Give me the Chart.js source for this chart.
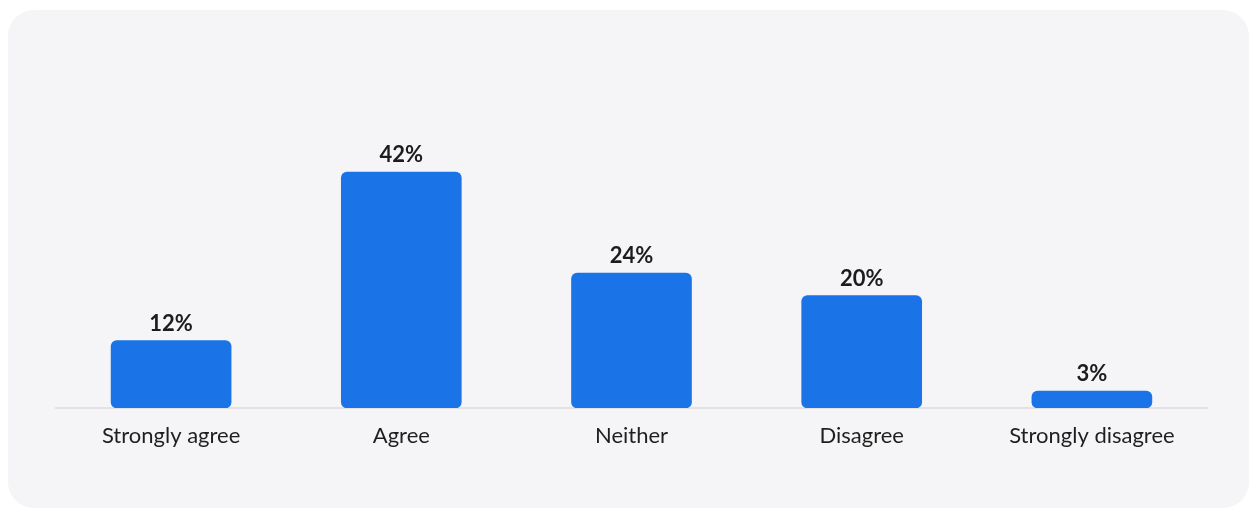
<!DOCTYPE html>
<html>
<head>
<meta charset="utf-8">
<script src="https://cdn.jsdelivr.net/npm/chart.js@4.4.1/dist/chart.umd.min.js"></script>
<style>
  html, body { margin: 0; padding: 0; background: #ffffff; }
  body { width: 1251px; height: 509px; position: relative; overflow: hidden; }
  #panel {
    position: absolute; left: 8px; top: 10px; width: 1241px; height: 498px;
    background: #f5f5f7; border-radius: 26px;
  }
  #wrap { position: absolute; left: 0; top: 0; width: 1251px; height: 509px; }
</style>
</head>
<body>
<div id="panel"></div>
<div id="wrap"><canvas id="chart" width="1251" height="509"></canvas></div>
<script>
// Survey responses, share of respondents (%)
const categories = ['Strongly agree', 'Agree', 'Neither', 'Disagree', 'Strongly disagree'];
const shares = [12, 42, 24, 20, 3];
const valueLabels = ['12%', '42%', '24%', '20%', '3%'];

const FONT = 'Lato, "DejaVu Sans", sans-serif';

// Writes the percentage above each bar
const valueLabelPlugin = {
  id: 'valueLabels',
  afterDatasetsDraw(chart) {
    const ctx = chart.ctx;
    const meta = chart.getDatasetMeta(0);
    ctx.save();
    ctx.font = 'bold 22px ' + FONT;
    ctx.fillStyle = '#1c1c1c';
    ctx.textAlign = 'center';
    ctx.textBaseline = 'alphabetic';
    meta.data.forEach((bar, i) => {
      ctx.fillText(valueLabels[i], bar.x, bar.y - 10);
    });
    ctx.restore();
  }
};

new Chart(document.getElementById('chart'), {
  type: 'bar',
  data: {
    labels: categories,
    datasets: [{
      data: shares,
      backgroundColor: '#1b73e8',
      borderRadius: 6,
      borderSkipped: false,
      barThickness: 120
    }]
  },
  options: {
    responsive: false,
    animation: false,
    devicePixelRatio: 1,
    layout: { padding: { left: 56, right: 44, top: 127, bottom: 0 } },
    plugins: { legend: { display: false }, tooltip: { enabled: false } },
    scales: {
      x: {
        grid: { display: false, drawTicks: false },
        border: { display: true, color: '#e3e3e6', width: 2 },
        ticks: {
          color: '#1f1f1f',
          font: { family: FONT, size: 22 },
          padding: 15
        },
        afterFit(scale) { scale.height = 101; }
      },
      y: {
        display: false,
        min: 0,
        max: 50
      }
    }
  },
  plugins: [valueLabelPlugin]
});
</script>
</body>
</html>
